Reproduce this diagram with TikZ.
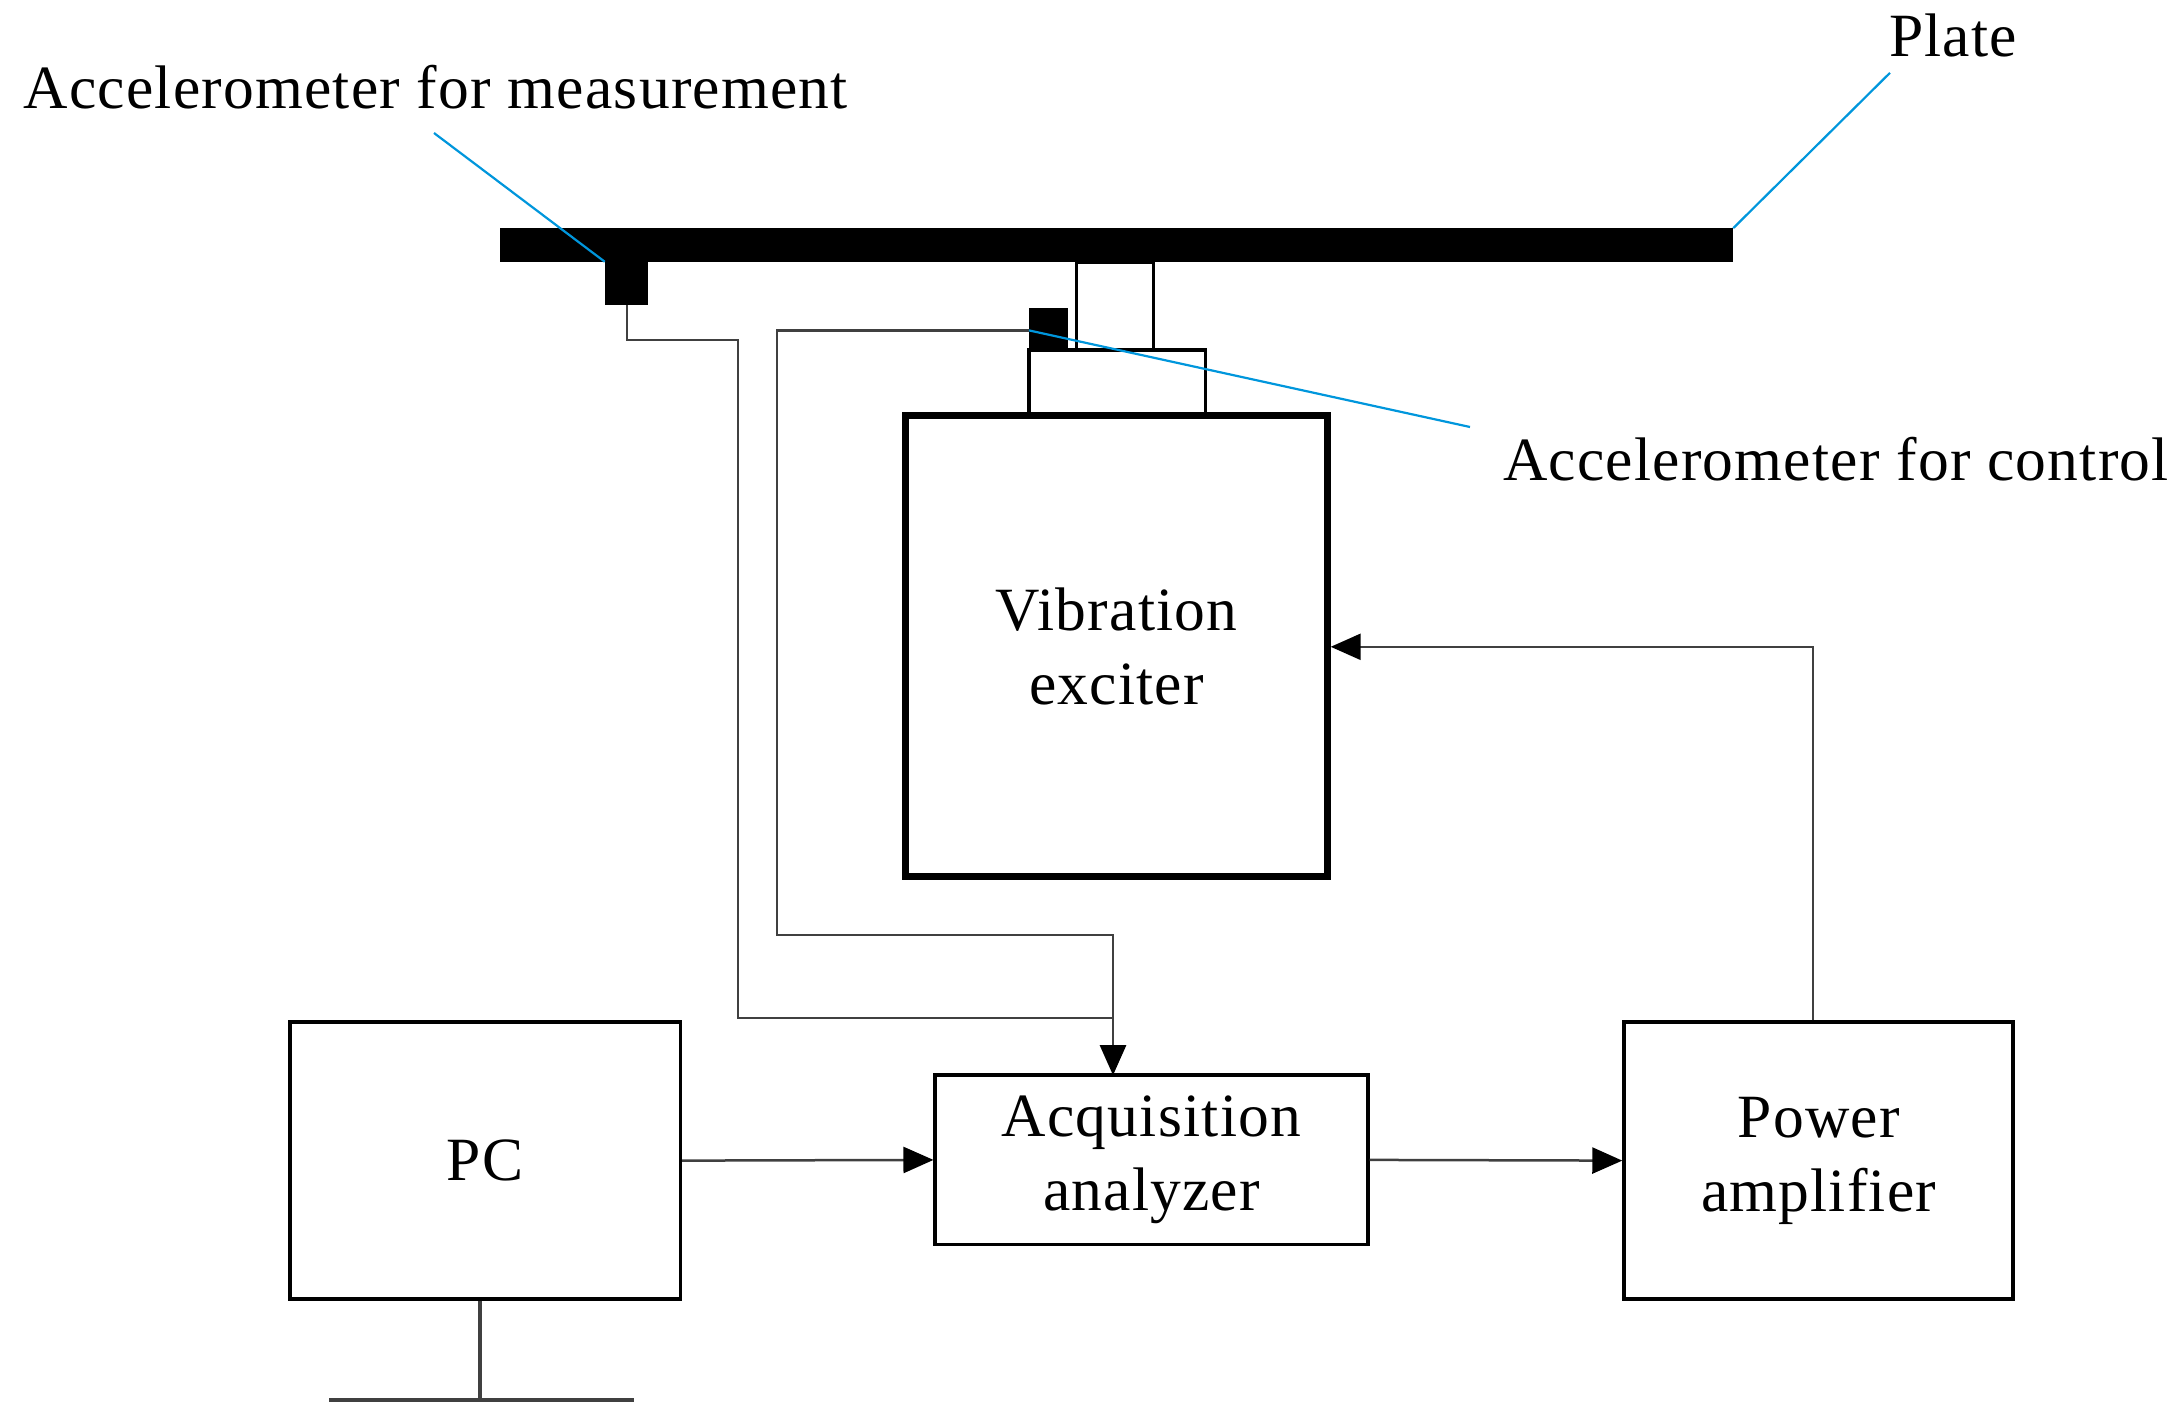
\documentclass[tikz,border=0pt]{standalone}
\usepackage{fontspec}
\setmainfont{Liberation Serif}[LetterSpace=2]
\usetikzlibrary{arrows.meta}
\begin{document}
\begin{tikzpicture}[x=0.14mm,y=-0.14mm,
  box/.style={draw,line width=0.35mm},
  wire/.style={draw=black!75,line width=0.25mm},
  arr/.style={wire,-{Triangle[length=3mm,width=2.6mm,color=black]}},
  lead/.style={draw={rgb,255:red,0;green,150;blue,220},line width=0.22mm},
  lbl/.style={font=\fontsize{17.5}{21}\selectfont,align=center}]
\useasboundingbox (0,0) rectangle (1560,1010);
% plate and accelerometers
\fill (357,163) rectangle (1238,187);
\fill (432,187) rectangle (463,218);
\fill (735,220) rectangle (763,250);
\draw[box] (769,187) rectangle (824,250);
\draw[box] (735,250) rectangle (861,297);
\node[box,line width=0.7mm,minimum width=301*0.14mm,minimum height=329*0.14mm,lbl] (exc) at (797.5,461.5) {Vibration\\exciter};
% lower boxes
\node[box,minimum width=279*0.14mm,minimum height=198*0.14mm,lbl] (pc) at (346.5,829) {PC};
\node[box,minimum width=309*0.14mm,minimum height=121*0.14mm,lbl] (acq) at (822.5,828.5) {Acquisition\\analyzer};
\node[box,minimum width=278*0.14mm,minimum height=198*0.14mm,lbl] (pa) at (1299,829) {Power\\amplifier};
% PC stand
\coordinate (st) at (343,1000);
\draw[wire,line width=0.35mm] (pc.south -| st) -- (st);
\draw[wire,line width=0.35mm] (235,1000) -- (453,1000);
% wires
\coordinate (ma) at (448,218);
\coordinate (ca) at (735,236);
\coordinate (ain) at (795,768);
\draw[wire] (ma) |- (527,243) |- (795,727);
\draw[arr] (ca) -| (555,668) -| (ain);
\draw[arr] (pc.east) -- (acq.west);
\draw[arr] (acq.east) -- (pa.west);
\draw[arr] (pa.north -| 1295,0) |- (exc.east |- 0,462);
% leaders and labels
\node[lbl,anchor=west] (lm) at (8,62) {Accelerometer for measurement};
\node[lbl] (lp) at (1395,25) {Plate};
\node[lbl,anchor=east] (lc) at (1558,328) {Accelerometer for control};
\draw[lead] (310,95) -- (432,187);
\draw[lead] (1238,163) -- (1350,52);
\draw[lead] (735,236) -- (1050,305);
\end{tikzpicture}
\end{document}
